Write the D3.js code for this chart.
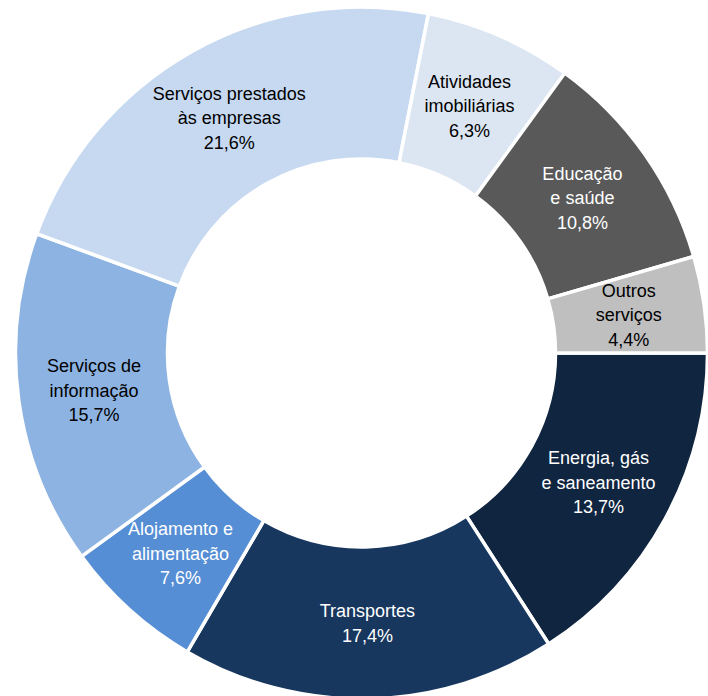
<!DOCTYPE html>
<html>
<head>
<meta charset="utf-8">
<script src="https://cdn.jsdelivr.net/npm/d3@7"></script>
<style>
  html, body { margin: 0; padding: 0; background: #ffffff; }
  svg { display: block; }
</style>
</head>
<body>
<svg id="chart" width="708" height="696"></svg>
<script>
// Categories (clockwise from 3 o'clock)
const categories = [
  ["Energia, gás", "e saneamento"],
  ["Transportes"],
  ["Alojamento e", "alimentação"],
  ["Serviços de", "informação"],
  ["Serviços prestados", "às empresas"],
  ["Atividades", "imobiliárias"],
  ["Educação", "e saúde"],
  ["Outros", "serviços"]
];
// Slice sizes as drawn in the picture (share of the ring, %)
const sliceValues = [15.9, 17.5, 6.6, 15.6, 22.5, 6.9, 10.5, 4.5];
// Percentage labels as printed
const percentLabels = ["13,7%", "17,4%", "7,6%", "15,7%", "21,6%", "6,3%", "10,8%", "4,4%"];
const colors = ["#10253F", "#17375E", "#558ED5", "#8DB3E2", "#C6D9F1", "#DCE6F2", "#595959", "#BFBFBF"];
const textColors = ["#ffffff", "#ffffff", "#ffffff", "#000000", "#000000", "#000000", "#ffffff", "#000000"];

const cx = 361.5, cy = 353;
const outerR = 346, innerR = 194, labelR = 270;

const svg = d3.select("#chart");
const g = svg.append("g").attr("transform", `translate(${cx},${cy})`);

const data = categories.map((c, i) => ({ name: c, value: sliceValues[i], pct: percentLabels[i], color: colors[i], tc: textColors[i] }));

const pie = d3.pie()
  .value(d => d.value)
  .sort(null)
  .startAngle(Math.PI / 2)
  .endAngle(Math.PI / 2 + 2 * Math.PI);

const arc = d3.arc().innerRadius(innerR).outerRadius(outerR);
const labelArc = d3.arc().innerRadius(labelR).outerRadius(labelR);

const arcs = pie(data);

g.selectAll("path.slice")
  .data(arcs)
  .join("path")
  .attr("class", "slice")
  .attr("d", arc)
  .attr("fill", d => d.data.color)
  .attr("stroke", "#ffffff")
  .attr("stroke-width", 3.5)
  .attr("stroke-linejoin", "miter");

const lineH = 24.5;
const labels = g.selectAll("text.lbl")
  .data(arcs)
  .join("text")
  .attr("class", "lbl")
  .attr("text-anchor", "middle")
  .attr("font-family", "Liberation Sans, Arial, sans-serif")
  .attr("font-size", 18)
  .attr("fill", d => d.data.tc)
  .attr("transform", d => `translate(${labelArc.centroid(d)})`);

labels.each(function(d) {
  const lines = d.data.name.concat([d.data.pct]);
  const n = lines.length;
  const t = d3.select(this);
  lines.forEach((ln, i) => {
    t.append("tspan")
      .attr("x", 0)
      .attr("y", (i - (n - 1) / 2) * lineH)
      .attr("dy", "0.36em")
      .text(ln);
  });
});
</script>
</body>
</html>
